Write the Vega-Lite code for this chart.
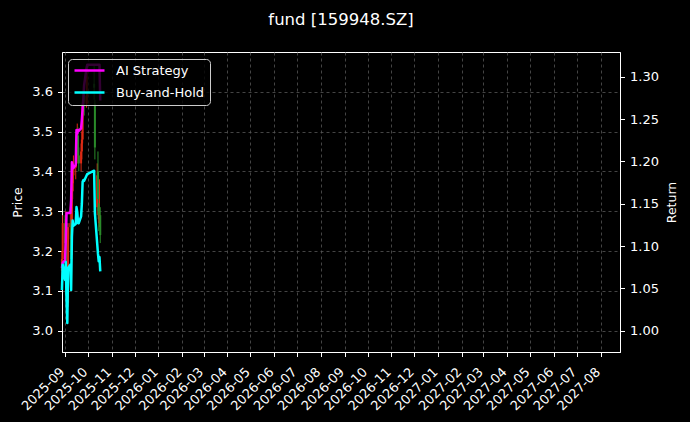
{
  "$schema": "https://vega.github.io/schema/vega-lite/v6.json",
  "autosize": {"type": "none"},
  "width": 558,
  "height": 300,
  "padding": {"left": 62, "top": 52, "right": 70, "bottom": 70},
  "background": "#000000",
  "title": {
    "text": "fund [159948.SZ]",
    "color": "#ffffff",
    "font": "DejaVu Sans",
    "fontSize": 16.5,
    "fontWeight": "normal",
    "offset": 24
  },
  "config": {
    "view": {"stroke": "#ffffff", "strokeWidth": 1},
    "axis": {
      "domainColor": "#ffffff",
      "tickColor": "#ffffff",
      "tickSize": 4.5,
      "labelColor": "#ffffff",
      "labelFont": "DejaVu Sans",
      "labelFontSize": 13,
      "titleColor": "#ffffff",
      "titleFont": "DejaVu Sans",
      "titleFontSize": 12.5,
      "titleFontWeight": "normal",
      "grid": true,
      "gridColor": "#555555",
      "gridDash": [3, 3],
      "gridWidth": 0.8
    }
  },
  "datasets": {
    "candles": [
      {"date": "2025-08-28", "open": 3.15, "high": 3.20, "low": 3.12, "close": 3.18},
      {"date": "2025-08-29", "open": 3.18, "high": 3.29, "low": 3.17, "close": 3.27},
      {"date": "2025-09-01", "open": 3.27, "high": 3.29, "low": 3.20, "close": 3.22},
      {"date": "2025-09-02", "open": 3.22, "high": 3.30, "low": 3.19, "close": 3.28},
      {"date": "2025-09-03", "open": 3.27, "high": 3.28, "low": 3.13, "close": 3.14},
      {"date": "2025-09-04", "open": 3.13, "high": 3.16, "low": 3.02, "close": 3.06},
      {"date": "2025-09-05", "open": 3.07, "high": 3.27, "low": 3.06, "close": 3.26},
      {"date": "2025-09-08", "open": 3.26, "high": 3.31, "low": 3.23, "close": 3.27},
      {"date": "2025-09-09", "open": 3.27, "high": 3.28, "low": 3.16, "close": 3.18},
      {"date": "2025-09-10", "open": 3.19, "high": 3.37, "low": 3.18, "close": 3.36},
      {"date": "2025-09-11", "open": 3.35, "high": 3.41, "low": 3.33, "close": 3.39},
      {"date": "2025-09-12", "open": 3.39, "high": 3.44, "low": 3.37, "close": 3.41},
      {"date": "2025-09-15", "open": 3.41, "high": 3.45, "low": 3.38, "close": 3.42},
      {"date": "2025-09-16", "open": 3.42, "high": 3.50, "low": 3.41, "close": 3.48},
      {"date": "2025-09-17", "open": 3.48, "high": 3.52, "low": 3.44, "close": 3.485},
      {"date": "2025-09-18", "open": 3.49, "high": 3.51, "low": 3.42, "close": 3.44},
      {"date": "2025-09-19", "open": 3.44, "high": 3.46, "low": 3.40, "close": 3.42},
      {"date": "2025-09-22", "open": 3.42, "high": 3.47, "low": 3.40, "close": 3.45},
      {"date": "2025-09-23", "open": 3.45, "high": 3.50, "low": 3.43, "close": 3.48},
      {"date": "2025-09-24", "open": 3.48, "high": 3.58, "low": 3.47, "close": 3.57},
      {"date": "2025-09-25", "open": 3.57, "high": 3.62, "low": 3.55, "close": 3.58},
      {"date": "2025-09-26", "open": 3.59, "high": 3.61, "low": 3.54, "close": 3.575},
      {"date": "2025-09-29", "open": 3.57, "high": 3.64, "low": 3.56, "close": 3.59},
      {"date": "2025-09-30", "open": 3.59, "high": 3.66, "low": 3.57, "close": 3.60},
      {"date": "2025-10-09", "open": 3.62, "high": 3.67, "low": 3.58, "close": 3.61},
      {"date": "2025-10-10", "open": 3.57, "high": 3.58, "low": 3.43, "close": 3.46},
      {"date": "2025-10-13", "open": 3.31, "high": 3.42, "low": 3.29, "close": 3.39},
      {"date": "2025-10-14", "open": 3.40, "high": 3.45, "low": 3.30, "close": 3.33},
      {"date": "2025-10-15", "open": 3.32, "high": 3.36, "low": 3.25, "close": 3.28},
      {"date": "2025-10-16", "open": 3.27, "high": 3.38, "low": 3.26, "close": 3.29},
      {"date": "2025-10-17", "open": 3.29, "high": 3.31, "low": 3.22, "close": 3.24}
    ],
    "returns": [
      {"date": "2025-08-28", "series": "AI Strategy", "value": 1.074},
      {"date": "2025-08-29", "series": "AI Strategy", "value": 1.080},
      {"date": "2025-09-01", "series": "AI Strategy", "value": 1.083},
      {"date": "2025-09-02", "series": "AI Strategy", "value": 1.107},
      {"date": "2025-09-03", "series": "AI Strategy", "value": 1.139},
      {"date": "2025-09-04", "series": "AI Strategy", "value": 1.139},
      {"date": "2025-09-05", "series": "AI Strategy", "value": 1.139},
      {"date": "2025-09-08", "series": "AI Strategy", "value": 1.139},
      {"date": "2025-09-09", "series": "AI Strategy", "value": 1.154},
      {"date": "2025-09-10", "series": "AI Strategy", "value": 1.199},
      {"date": "2025-09-11", "series": "AI Strategy", "value": 1.196},
      {"date": "2025-09-12", "series": "AI Strategy", "value": 1.192},
      {"date": "2025-09-15", "series": "AI Strategy", "value": 1.196},
      {"date": "2025-09-16", "series": "AI Strategy", "value": 1.237},
      {"date": "2025-09-17", "series": "AI Strategy", "value": 1.233},
      {"date": "2025-09-18", "series": "AI Strategy", "value": 1.237},
      {"date": "2025-09-19", "series": "AI Strategy", "value": 1.236},
      {"date": "2025-09-22", "series": "AI Strategy", "value": 1.239},
      {"date": "2025-09-23", "series": "AI Strategy", "value": 1.249},
      {"date": "2025-09-24", "series": "AI Strategy", "value": 1.263},
      {"date": "2025-09-25", "series": "AI Strategy", "value": 1.275},
      {"date": "2025-09-26", "series": "AI Strategy", "value": 1.290},
      {"date": "2025-09-29", "series": "AI Strategy", "value": 1.310},
      {"date": "2025-09-30", "series": "AI Strategy", "value": 1.314},
      {"date": "2025-10-09", "series": "AI Strategy", "value": 1.314},
      {"date": "2025-10-10", "series": "AI Strategy", "value": 1.314},
      {"date": "2025-10-13", "series": "AI Strategy", "value": 1.314},
      {"date": "2025-10-14", "series": "AI Strategy", "value": 1.314},
      {"date": "2025-10-15", "series": "AI Strategy", "value": 1.314},
      {"date": "2025-10-16", "series": "AI Strategy", "value": 1.314},
      {"date": "2025-10-17", "series": "AI Strategy", "value": 1.272},
      {"date": "2025-08-28", "series": "Buy-and-Hold", "value": 1.048},
      {"date": "2025-08-29", "series": "Buy-and-Hold", "value": 1.078},
      {"date": "2025-09-01", "series": "Buy-and-Hold", "value": 1.060},
      {"date": "2025-09-02", "series": "Buy-and-Hold", "value": 1.081},
      {"date": "2025-09-03", "series": "Buy-and-Hold", "value": 1.036},
      {"date": "2025-09-04", "series": "Buy-and-Hold", "value": 1.009},
      {"date": "2025-09-05", "series": "Buy-and-Hold", "value": 1.074},
      {"date": "2025-09-08", "series": "Buy-and-Hold", "value": 1.078},
      {"date": "2025-09-09", "series": "Buy-and-Hold", "value": 1.048},
      {"date": "2025-09-10", "series": "Buy-and-Hold", "value": 1.111},
      {"date": "2025-09-11", "series": "Buy-and-Hold", "value": 1.130},
      {"date": "2025-09-12", "series": "Buy-and-Hold", "value": 1.124},
      {"date": "2025-09-15", "series": "Buy-and-Hold", "value": 1.126},
      {"date": "2025-09-16", "series": "Buy-and-Hold", "value": 1.146},
      {"date": "2025-09-17", "series": "Buy-and-Hold", "value": 1.140},
      {"date": "2025-09-18", "series": "Buy-and-Hold", "value": 1.127},
      {"date": "2025-09-19", "series": "Buy-and-Hold", "value": 1.127},
      {"date": "2025-09-22", "series": "Buy-and-Hold", "value": 1.135},
      {"date": "2025-09-23", "series": "Buy-and-Hold", "value": 1.150},
      {"date": "2025-09-24", "series": "Buy-and-Hold", "value": 1.176},
      {"date": "2025-09-25", "series": "Buy-and-Hold", "value": 1.178},
      {"date": "2025-09-26", "series": "Buy-and-Hold", "value": 1.177},
      {"date": "2025-09-29", "series": "Buy-and-Hold", "value": 1.183},
      {"date": "2025-09-30", "series": "Buy-and-Hold", "value": 1.185},
      {"date": "2025-10-09", "series": "Buy-and-Hold", "value": 1.189},
      {"date": "2025-10-10", "series": "Buy-and-Hold", "value": 1.139},
      {"date": "2025-10-13", "series": "Buy-and-Hold", "value": 1.103},
      {"date": "2025-10-14", "series": "Buy-and-Hold", "value": 1.091},
      {"date": "2025-10-15", "series": "Buy-and-Hold", "value": 1.082},
      {"date": "2025-10-16", "series": "Buy-and-Hold", "value": 1.087},
      {"date": "2025-10-17", "series": "Buy-and-Hold", "value": 1.070}
    ]
  },
  "encoding": {
    "x": {
      "field": "date",
      "type": "temporal",
      "scale": {
        "type": "utc",
        "domain": [
          {"year": 2025, "month": 8, "date": 28, "hours": 2, "utc": true},
          {"year": 2027, "month": 8, "date": 26, "hours": 5, "utc": true}
        ]
      },
      "axis": {
        "title": null,
        "labelExpr": "utcFormat(datum.value, '%Y-%m')",
        "tickCount": {"interval": "month", "step": 1},
        "labelAngle": -45,
        "labelAlign": "right",
        "labelBaseline": "middle",
        "labelPadding": 13,
        "labelOffset": -3,
        "labelOverlap": false,
        "labelFlush": false,
        "labelBound": false
      }
    }
  },
  "layer": [
    {
      "data": {"name": "candles"},
      "encoding": {
        "y": {
          "field": "low",
          "type": "quantitative",
          "scale": {"domain": [2.9465, 3.6997], "zero": false, "nice": false},
          "axis": {
            "orient": "left",
            "title": "Price",
            "values": [3.0, 3.1, 3.2, 3.3, 3.4, 3.5, 3.6],
            "format": ".1f",
            "labelPadding": 5,
            "titlePadding": 7
          }
        },
        "color": {
          "condition": {"test": "datum.close >= datum.open", "value": "#dc2a14"},
          "value": "#2a8a2a"
        }
      },
      "layer": [
        {
          "mark": {"type": "rule", "strokeWidth": 1},
          "encoding": {"y2": {"field": "high"}}
        },
        {
          "mark": {"type": "rule", "strokeWidth": 2},
          "encoding": {
            "y": {"field": "open", "type": "quantitative"},
            "y2": {"field": "close"}
          }
        }
      ]
    },
    {
      "data": {"name": "returns"},
      "mark": {"type": "line", "strokeWidth": 2.5, "strokeJoin": "round"},
      "encoding": {
        "y": {
          "field": "value",
          "type": "quantitative",
          "scale": {"domain": [0.9748, 1.3292], "zero": false, "nice": false},
          "axis": {
            "orient": "right",
            "title": "Return",
            "values": [1.0, 1.05, 1.1, 1.15, 1.2, 1.25, 1.3],
            "format": ".2f",
            "labelPadding": 5,
            "titleAngle": -90,
            "titleBaseline": "top",
            "titlePadding": 7
          }
        },
        "color": {
          "field": "series",
          "type": "nominal",
          "scale": {"domain": ["AI Strategy", "Buy-and-Hold"], "range": ["#ff00ff", "#00ffff"]},
          "legend": {
            "title": null,
            "orient": "none",
            "legendX": 6,
            "legendY": 7,
            "symbolType": "stroke",
            "symbolSize": 900,
            "symbolStrokeWidth": 2.5,
            "clipHeight": 13,
            "rowPadding": 8,
            "padding": 5,
            "labelOffset": 10,
            "labelFont": "DejaVu Sans",
            "labelFontSize": 13,
            "labelColor": "#ffffff",
            "fillColor": "rgba(0,0,0,0.8)",
            "strokeColor": "#cccccc",
            "cornerRadius": 4
          }
        }
      }
    }
  ],
  "resolve": {"scale": {"y": "independent", "color": "independent"}}
}
